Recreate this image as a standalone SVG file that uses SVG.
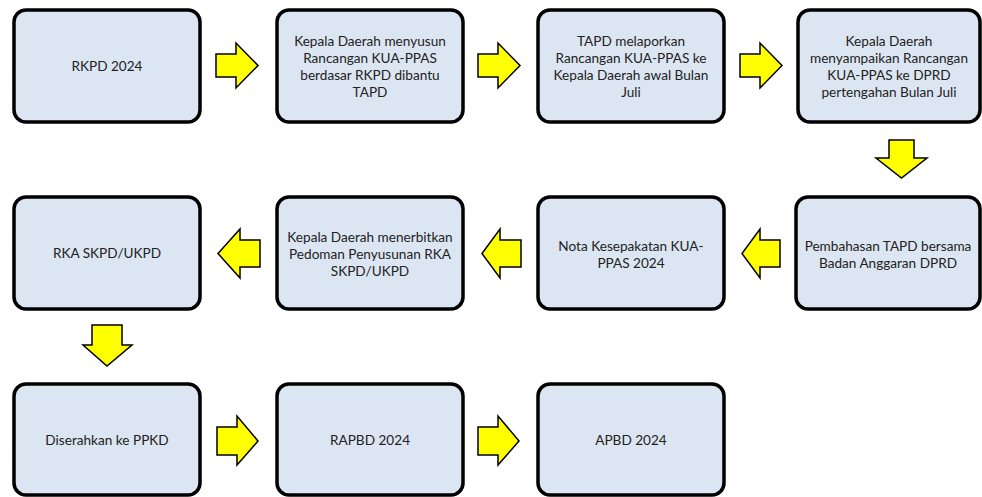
<svg xmlns="http://www.w3.org/2000/svg" width="982" height="497" viewBox="0 0 982 497">
<style>
.box{fill:#dce6f2;stroke:#000;stroke-width:3.5}
.arr{fill:#ffff00;stroke:#000;stroke-width:1.5;stroke-linejoin:miter}
text{font-family:Lato,"Liberation Sans",sans-serif;font-size:13.6px;fill:#222;text-anchor:middle}
</style>
<rect width="982" height="497" fill="#fff"/>
<g id="n1"><rect class="box" x="14" y="10" width="186" height="112" rx="12"/><text x="107" y="71">RKPD 2024</text></g>
<g id="n2"><rect class="box" x="277" y="10" width="186" height="112" rx="12"/>
<text x="370" y="46">Kepala Daerah menyusun</text><text x="370" y="63">Rancangan KUA-PPAS</text><text x="370" y="80">berdasar RKPD dibantu</text><text x="370" y="97">TAPD</text></g>
<g id="n3"><rect class="box" x="538" y="10" width="186" height="112" rx="12"/>
<text x="631" y="46">TAPD melaporkan</text><text x="631" y="63">Rancangan KUA-PPAS ke</text><text x="631" y="80">Kepala Daerah awal Bulan</text><text x="631" y="97">Juli</text></g>
<g id="n4"><rect class="box" x="798" y="10" width="182" height="112" rx="12"/>
<text x="889" y="46">Kepala Daerah</text><text x="889" y="63">menyampaikan Rancangan</text><text x="889" y="80">KUA-PPAS ke DPRD</text><text x="889" y="97">pertengahan Bulan Juli</text></g>
<g id="n5"><rect class="box" x="796" y="197" width="184" height="112" rx="12"/>
<text x="888" y="251">Pembahasan TAPD bersama</text><text x="888" y="268">Badan Anggaran DPRD</text></g>
<g id="n6"><rect class="box" x="538" y="197" width="186" height="112" rx="12"/>
<text x="631" y="251">Nota Kesepakatan KUA-</text><text x="631" y="268">PPAS 2024</text></g>
<g id="n7"><rect class="box" x="277" y="197" width="186" height="112" rx="12"/>
<text x="370" y="242">Kepala Daerah menerbitkan</text><text x="370" y="259">Pedoman Penyusunan RKA</text><text x="370" y="276">SKPD/UKPD</text></g>
<g id="n8"><rect class="box" x="14" y="197" width="186" height="112" rx="12"/><text x="107" y="258">RKA SKPD/UKPD</text></g>
<g id="n9"><rect class="box" x="14" y="384" width="186" height="111" rx="12"/><text x="107" y="445">Diserahkan ke PPKD</text></g>
<g id="n10"><rect class="box" x="277" y="384" width="186" height="111" rx="12"/><text x="370" y="445">RAPBD 2024</text></g>
<g id="n11"><rect class="box" x="538" y="384" width="186" height="111" rx="12"/><text x="631" y="445">APBD 2024</text></g>
<g id="connectors">
<polygon class="arr" points="216,54 236,54 236,43 258,65.5 236,88 236,77 216,77"/>
<polygon class="arr" points="478,54 498,54 498,43 520,65.5 498,88 498,77 478,77"/>
<polygon class="arr" points="740,54 760,54 760,43 782,65.5 760,88 760,77 740,77"/>
<polygon class="arr" points="889,140 914,140 914,158 927,158 901.5,178 876,158 889,158"/>
<polygon class="arr" points="780,240 760,240 760,229 742,253.5 760,278 760,267 780,267"/>
<polygon class="arr" points="521,240 500,240 500,229 482,253.5 500,278 500,267 521,267"/>
<polygon class="arr" points="260,240 240,240 240,229 218,253.5 240,278 240,267 260,267"/>
<polygon class="arr" points="92,325 122,325 122,345 132,345 107,366 83,345 92,345"/>
<polygon class="arr" points="217,427 237,427 237,416 258,441 237,465 237,455 217,455"/>
<polygon class="arr" points="478,427 498,427 498,416 519,441 498,465 498,455 478,455"/>
</g>
</svg>
